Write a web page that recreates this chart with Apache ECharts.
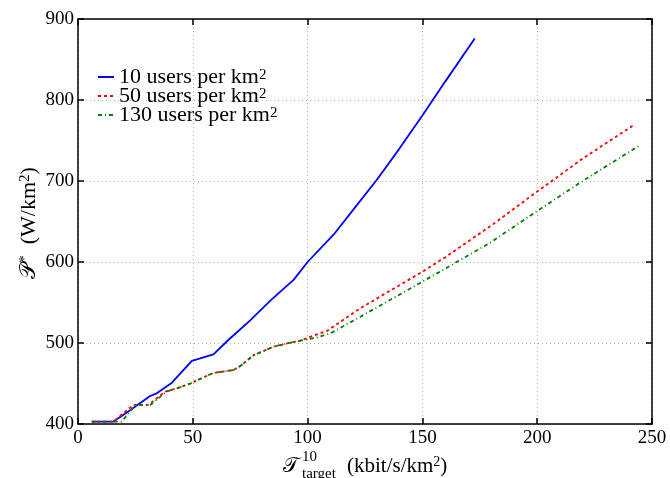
<!DOCTYPE html>
<html><head><meta charset="utf-8">
<script src="https://cdn.jsdelivr.net/npm/echarts@6/dist/echarts.min.js"></script>
<style>html,body{margin:0;padding:0;background:#fff}#c{width:670px;height:478px}</style>
</head><body><div id="c"></div>
<script>
var seriesNames = ['10 users per km', '50 users per km', '130 users per km'];
var xTicks = [0, 50, 100, 150, 200, 250];
var yTicks = [400, 500, 600, 700, 800, 900];

var x10 = [6, 15.4, 22.7, 31.4, 34.3, 40.9, 49.6, 59, 65.6, 75, 84, 93.9, 100, 111.4, 120, 130, 140, 150, 160, 172.8];
var y10 = [403, 403, 417, 434.6, 437.9, 451, 478, 486, 504, 528, 553, 578, 600, 634, 665, 701, 740, 781, 823, 876];

var x50 = [6, 15.4, 24.1, 30.7, 38, 43.1, 48.9, 56.9, 59, 64.9, 67.8, 70.7, 76.5, 85.2, 91.1, 96.9, 102, 108.5, 123, 150, 160, 180, 200, 220, 242];
var y50 = [403, 403, 423.5, 423.5, 440, 444, 450, 460.5, 463, 465.4, 466.7, 471.6, 485, 495.4, 499.6, 502.9, 508.6, 515, 543, 588, 606, 645, 687, 728, 769];

var x130 = [6, 19, 25, 31.5, 38.5, 43.1, 48.9, 56.9, 59, 64.9, 67.8, 70.7, 76.5, 85.2, 91.1, 96.9, 104.1, 110, 123, 150, 159.4, 179.6, 200, 219.8, 245.2];
var y130 = [403, 403, 423.5, 423.5, 440, 444, 450, 460.5, 463, 465.4, 466.7, 471.6, 485, 495.4, 499.6, 502.9, 507, 512, 532.5, 575.7, 591, 624, 663, 700, 745];

function pairs(xs, ys) { return xs.map(function (x, i) { return [x, ys[i]]; }); }

var FONT = "'Liberation Serif','DejaVu Serif',serif";
var chart = echarts.init(document.getElementById('c'), null, {renderer: 'canvas'});

var gridLine = {show: true, lineStyle: {color: '#b0b0b0', type: [1, 3], width: 1}};
function baseAxis(extra) {
  return Object.assign({
    type: 'value',
    axisLine: {show: true, onZero: false, lineStyle: {color: '#000', width: 1.5}},
    axisTick: {show: true, inside: true, length: 6, lineStyle: {color: '#000', width: 1.5}},
    axisLabel: {color: '#000', fontFamily: FONT, fontSize: 19},
    splitLine: {show: false}
  }, extra);
}

chart.setOption({
  animation: false,
  backgroundColor: '#fff',
  grid: {left: 78, right: 18, top: 19, bottom: 54},
  xAxis: [
    baseAxis({min: xTicks[0], max: xTicks[xTicks.length - 1], interval: 50, position: 'bottom',
      splitLine: gridLine, axisLabel: {color: '#000', fontFamily: FONT, fontSize: 19, margin: 5}}),
    baseAxis({min: xTicks[0], max: xTicks[xTicks.length - 1], interval: 50, position: 'top',
      axisLabel: {show: false}})
  ],
  yAxis: [
    baseAxis({min: yTicks[0], max: yTicks[yTicks.length - 1], interval: 100, position: 'left',
      splitLine: gridLine, axisLabel: {color: '#000', fontFamily: FONT, fontSize: 19, margin: 4}}),
    baseAxis({min: yTicks[0], max: yTicks[yTicks.length - 1], interval: 100, position: 'right',
      axisLabel: {show: false}})
  ],
  legend: {
    orient: 'vertical', left: 92, top: 61, itemWidth: 16, itemHeight: 10, itemGap: -3,
    data: seriesNames,
    itemStyle: {opacity: 0, borderWidth: 0},
    formatter: function (n) { return '{a|' + n + '}{s|2}'; },
    textStyle: {
      color: '#000', fontFamily: FONT, fontSize: 22, lineHeight: 19,
      rich: {
        a: {fontFamily: FONT, fontSize: 22, lineHeight: 19, color: '#000'},
        s: {fontFamily: FONT, fontSize: 15, lineHeight: 13, verticalAlign: 'top', color: '#000'}
      }
    }
  },
  series: [
    {name: seriesNames[0], type: 'line', data: pairs(x10, y10), showSymbol: false, symbol: 'none',
      lineStyle: {color: '#0000ff', width: 1.8, type: 'solid'}, itemStyle: {color: '#0000ff'}},
    {name: seriesNames[1], type: 'line', data: pairs(x50, y50), showSymbol: false, symbol: 'none',
      lineStyle: {color: '#ff0000', width: 1.8, type: [3, 3]}, itemStyle: {color: '#ff0000'}},
    {name: seriesNames[2], type: 'line', data: pairs(x130, y130), showSymbol: false, symbol: 'none',
      lineStyle: {color: '#008000', width: 1.8, type: [4, 3, 1, 3]}, itemStyle: {color: '#008000'}}
  ],
  graphic: [
    {
      type: 'text', x: 29, y: 223, rotation: Math.PI / 2,
      style: {
        text: '{p|𝒫}{s|*}{a|  (W/km}{s|2}{a|)}',
        align: 'center', verticalAlign: 'middle', fill: '#000',
        rich: {
          p: {fontFamily: FONT, fontSize: 22, lineHeight: 22},
          a: {fontFamily: FONT, fontSize: 22, lineHeight: 22},
          s: {fontFamily: FONT, fontSize: 15, lineHeight: 13, verticalAlign: 'top'}
        }
      }
    },
    {type: 'text', x: 283, y: 466, style: {text: '𝒯', font: '21px ' + FONT, fill: '#000', verticalAlign: 'middle'}},
    {type: 'text', x: 302, y: 457, style: {text: '10', font: '15px ' + FONT, fill: '#000', verticalAlign: 'middle'}},
    {type: 'text', x: 302, y: 474, style: {text: 'target', font: '15px ' + FONT, fill: '#000', verticalAlign: 'middle'}},
    {
      type: 'text', x: 347, y: 466,
      style: {
        text: '{a|(kbit/s/km}{s|2}{a|)}', fill: '#000', verticalAlign: 'middle',
        rich: {
          a: {fontFamily: FONT, fontSize: 21, lineHeight: 22},
          s: {fontFamily: FONT, fontSize: 14, lineHeight: 13, verticalAlign: 'top'}
        }
      }
    }
  ]
});
</script></body></html>
